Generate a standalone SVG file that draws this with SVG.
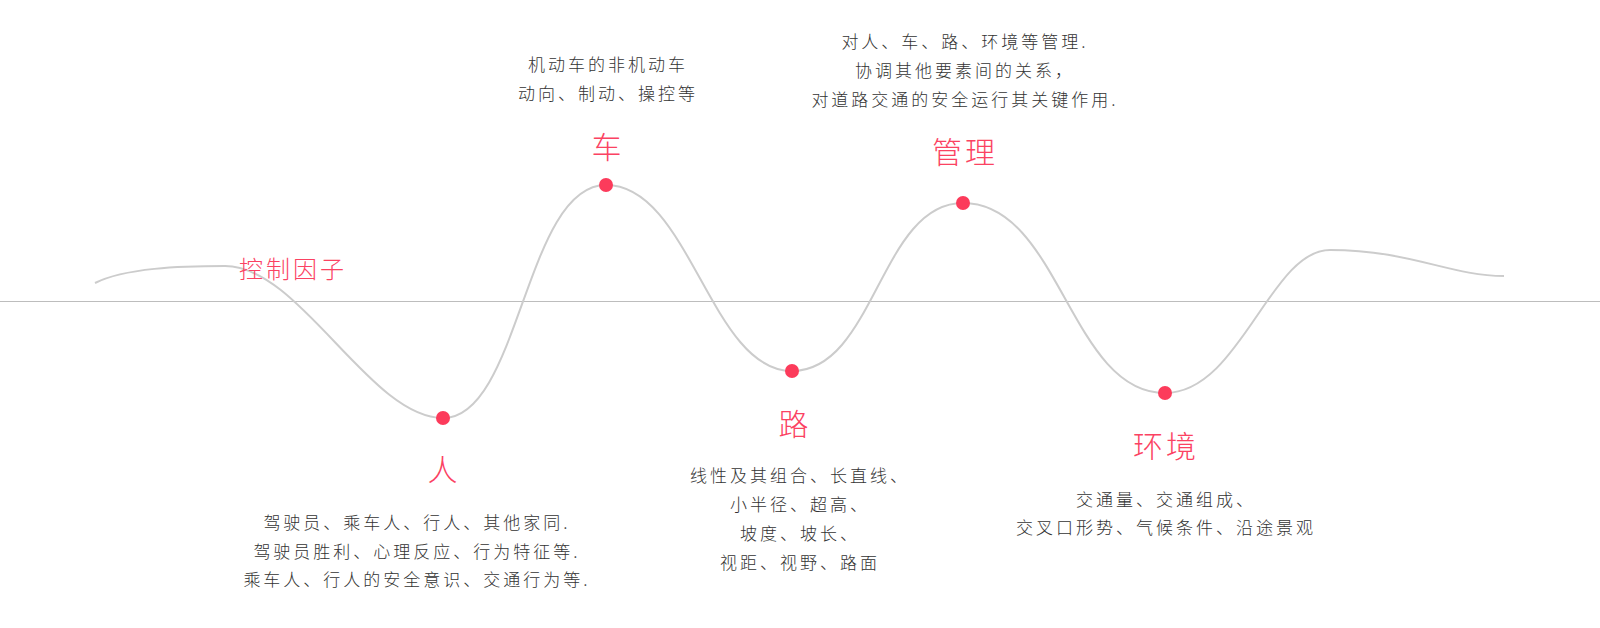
<svg xmlns="http://www.w3.org/2000/svg" width="1600" height="628" viewBox="0 0 1600 628">
<style>
.lbl{font-family:"Noto Sans CJK SC","Noto Sans",sans-serif;font-size:30px;font-weight:300;fill:#fb4262;text-anchor:middle;letter-spacing:3px}
.txt{font-family:"Noto Sans CJK SC","Noto Sans",sans-serif;font-size:17px;font-weight:300;fill:#333333;text-anchor:middle;letter-spacing:3px}
.dot{fill:#fc3b5b}
</style>
<rect width="1600" height="628" fill="#fff"/>
<g id="connectors">
<line x1="0" y1="301.5" x2="1600" y2="301.5" stroke="#bdbdbd" stroke-width="1"/>
<path d="M95,283 C125,268 180,266 225,266 C300,266 370,418 443,418 C520,418 525,185 606,185 C690,185 710,371 792,371 C875,371 880,203 963,203 C1060,203 1070,393 1165,393 C1240,393 1270,250 1330,250 C1410,250 1450,276 1504,276" fill="none" stroke="#cccccc" stroke-width="2"/>
</g>
<g id="control">
<text class="lbl" style="font-size:24px" x="293" y="278">控制因子</text>
</g>
<g id="ren">
<circle class="dot" cx="443" cy="418" r="7"/>
<text class="lbl" x="444" y="481">人</text>
<text class="txt" x="417" y="529">驾驶员、乘车人、行人、其他家同.</text>
<text class="txt" x="417" y="558">驾驶员胜利、心理反应、行为特征等.</text>
<text class="txt" x="417" y="586">乘车人、行人的安全意识、交通行为等.</text>
</g>
<g id="che">
<circle class="dot" cx="606" cy="185" r="7"/>
<text class="lbl" x="608" y="158">车</text>
<text class="txt" x="608" y="71">机动车的非机动车</text>
<text class="txt" x="608" y="100">动向、制动、操控等</text>
</g>
<g id="lu">
<circle class="dot" cx="792" cy="371" r="7"/>
<text class="lbl" x="795" y="435">路</text>
<text class="txt" x="800" y="482">线性及其组合、长直线、</text>
<text class="txt" x="800" y="511">小半径、超高、</text>
<text class="txt" x="800" y="540">坡度、坡长、</text>
<text class="txt" x="800" y="569">视距、视野、路面</text>
</g>
<g id="guanli">
<circle class="dot" cx="963" cy="203" r="7"/>
<text class="lbl" x="965" y="163">管理</text>
<text class="txt" x="965" y="48">对人、车、路、环境等管理.</text>
<text class="txt" x="965" y="77">协调其他要素间的关系，</text>
<text class="txt" x="965" y="106">对道路交通的安全运行其关键作用.</text>
</g>
<g id="huanjing">
<circle class="dot" cx="1165" cy="393" r="7"/>
<text class="lbl" x="1166" y="457">环境</text>
<text class="txt" x="1166" y="506">交通量、交通组成、</text>
<text class="txt" x="1166" y="534">交叉口形势、气候条件、沿途景观</text>
</g>
</svg>
